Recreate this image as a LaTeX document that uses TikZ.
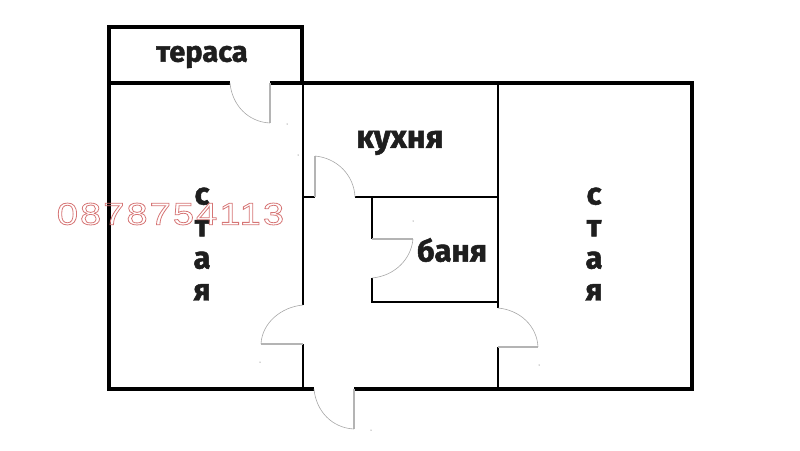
\documentclass[tikz,border=0pt]{standalone}
\usepackage{fontspec}
\setmainfont{Fira Sans}[BoldFeatures={FakeBold=1.6}]
\newfontfamily\phonefont[FakeStretch=1.23, LetterSpace=6.5]{Liberation Sans}
\newcommand{\outlinetext}[1]{\special{pdf:code 1 Tr 0.8 w 0.84 0.46 0.46 RG}#1\special{pdf:code 0 Tr}}
\definecolor{wallink}{HTML}{000000}
\definecolor{labelink}{HTML}{1E1E1E}
\definecolor{leafgray}{HTML}{B4B4B4}
\definecolor{swinggray}{HTML}{A8A8A8}
\tikzset{
  outerwall/.style={draw=wallink, line width=4pt},
  innerwall/.style={draw=wallink, line width=2.8pt},
  doorleaf/.style={draw=leafgray, line width=1.5pt},
  doorswing/.style={draw=swinggray, line width=0.6pt},
  roomlabel/.style={text=labelink, font=\bfseries\fontsize{29}{32}\selectfont, inner sep=0pt},
  roomcolumn/.style={roomlabel, font=\bfseries\fontsize{31}{32}\selectfont, align=center}
}
\begin{document}
\begin{tikzpicture}[x=1pt, y=-1pt]
    \useasboundingbox (0, 0) rectangle (800, 450);

    % Tераса
    \draw[outerwall] (230, 83) -- (108.5, 83) -- (108.5, 27) -- (302, 27) -- (302, 83);

    % Външни стени
    \draw[outerwall] (270, 83) -- (692, 83) -- (692, 389) -- (354, 389);
    \draw[outerwall] (314, 389) -- (108.5, 389) -- (108.5, 83);

    % Вътрешни стени
    \draw[innerwall] (303, 83) -- (303, 305);
    \draw[innerwall] (303, 344) -- (303, 389);
    \draw[innerwall] (498, 83) -- (498, 308);
    \draw[innerwall] (498, 347) -- (498, 389);
    \draw[innerwall] (303, 197) -- (315, 197);
    \draw[innerwall] (355, 197) -- (498, 197);
    \draw[innerwall] (372, 197) -- (372, 239);
    \draw[innerwall] (372, 278) -- (372, 302) -- (498, 302);

    % Врати
    \draw[doorleaf] (270, 83) -- (270, 123);
    \draw[doorswing] (230, 83) .. controls (232, 105) and (248, 122) .. (270, 123);

    \draw[doorleaf] (315, 197) -- (315, 156);
    \draw[doorswing] (315, 156) .. controls (337, 158) and (354, 175) .. (355, 197);

    \draw[doorleaf] (372, 239) -- (413, 239);
    \draw[doorswing] (413, 239) .. controls (411, 260) and (394, 276) .. (372, 278);

    \draw[doorleaf] (303, 344) -- (261, 344);
    \draw[doorswing] (303, 305) .. controls (281, 307) and (262, 323) .. (261, 344);

    \draw[doorleaf] (498, 347) -- (538, 347);
    \draw[doorswing] (498, 308) .. controls (520, 310) and (537, 326) .. (538, 347);

    \draw[doorleaf] (354, 389) -- (354, 429);
    \draw[doorswing] (314, 389) .. controls (316, 411) and (332, 428) .. (354, 429);

    % Точки
    \foreach \dotx/\doty in {287/124, 298/155, 260/362, 539/365, 371/430, 413/221}
      \fill[black!70] (\dotx, \doty) circle (0.5);

    % Надписи
    \node[roomlabel] (terrace) at (202, 57) {тераса};
    \node[roomlabel, font=\bfseries\fontsize{32}{32}\selectfont] (kitchen) at (400, 143) {кухня};
    \node[roomlabel, font=\bfseries\fontsize{31}{32}\selectfont] (bath) at (452, 250) {баня};
    \node[roomcolumn] (roomleft) at (202, 244) {с\\т\\а\\я};
    \node[roomcolumn] (roomright) at (594, 244) {с\\т\\а\\я};

    \node[inner sep=0pt] (phone) at (170.5, 214) {\phonefont\fontsize{31}{31}\selectfont\outlinetext{0878754113}};
\end{tikzpicture}
\end{document}
